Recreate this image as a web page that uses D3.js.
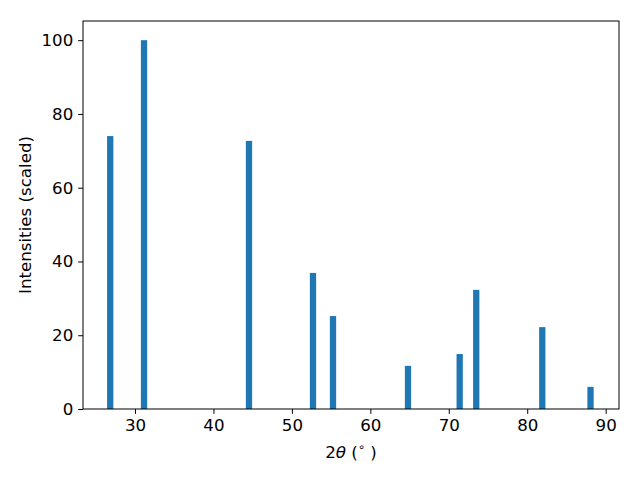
<!DOCTYPE html>
<html><head><meta charset="utf-8">
<script src="https://cdn.jsdelivr.net/npm/d3@7"></script>
<style>body{margin:0;background:#fff}svg{display:block}text{font-family:"DejaVu Sans",sans-serif}</style>
</head><body>
<svg id="c" width="640" height="480"></svg>
<script>
const angles = [26.84, 31.15, 44.53, 52.69, 55.24, 64.80, 71.39, 73.50, 81.92, 88.07];
const intensities = [74.0, 100.0, 72.7, 36.9, 25.2, 11.7, 14.9, 32.3, 22.2, 6.0];
const xTicks = [30, 40, 50, 60, 70, 80, 90];
const yTicks = [0, 20, 40, 60, 80, 100];
const barWidth = 0.8;

const svg = d3.select("#c");
const L = 83, R = 619, T = 21, B = 409;
const x = d3.scaleLinear().domain([23.37, 91.7]).range([L, R]);
const y = d3.scaleLinear().domain([0, 105.2]).range([B, T]);
const fs = "16.67px";

svg.append("g").selectAll("rect").data(angles).join("rect")
  .attr("x", (d) => x(d - barWidth/2))
  .attr("width", (d) => x(d + barWidth/2) - x(d - barWidth/2))
  .attr("y", (d, i) => y(intensities[i]))
  .attr("height", (d, i) => y(0) - y(intensities[i]))
  .attr("fill", "#1f77b4");

const gx = svg.append("g").attr("transform", `translate(0,${B})`)
  .call(d3.axisBottom(x).tickValues(xTicks).tickSize(4.86).tickPadding(4.86).tickFormat(d3.format("d")));
const gy = svg.append("g").attr("transform", `translate(${L},0)`)
  .call(d3.axisLeft(y).tickValues(yTicks).tickSize(4.86).tickPadding(4.86).tickFormat(d3.format("d")));
[gx, gy].forEach(g => {
  g.select(".domain").remove();
  g.selectAll("line").attr("stroke", "#000").attr("stroke-width", 1);
  g.selectAll("text").attr("font-size", fs).attr("fill", "#000").attr("font-family", '"DejaVu Sans",sans-serif');
});

svg.append("rect").attr("x", L).attr("y", T).attr("width", R - L).attr("height", B - T)
  .attr("fill", "none").attr("stroke", "#000").attr("stroke-width", 1);

const xl = svg.append("text").attr("x", (L + R) / 2).attr("y", 458).attr("text-anchor", "middle").attr("font-size", fs);
xl.append("tspan").text("2");
xl.append("tspan").attr("font-style", "italic").text("θ");
xl.append("tspan").text(" (");
xl.append("tspan").attr("font-size", "11.5px").attr("dy", -7).text("∘");
xl.append("tspan").attr("dy", 7).text(" )");

svg.append("text").attr("transform", `translate(31,${(T + B) / 2}) rotate(-90)`)
  .attr("text-anchor", "middle").attr("font-size", fs).text("Intensities (scaled)");
</script>
</body></html>
